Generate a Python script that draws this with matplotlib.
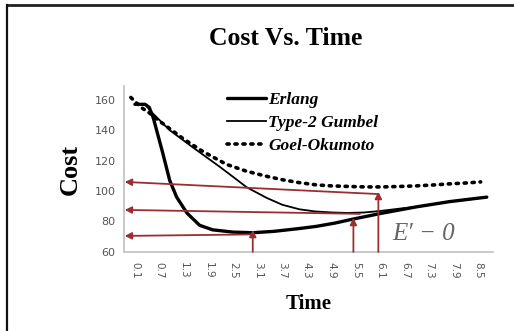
import matplotlib.pyplot as plt
from matplotlib.lines import Line2D

# values
t_erlang = [0.1, 0.35, 0.45, 0.55, 0.63, 0.78, 0.95, 1.12, 1.37, 1.68, 2.0, 2.5, 2.98,
            3.5, 4.1, 4.54, 5.0, 5.42, 6.15, 6.98, 7.78, 8.7]
erlang = [157, 157, 155, 148, 140, 125, 107, 96, 85.6, 77.5, 74.5, 73, 72.6,
          73.5, 75.3, 76.8, 79, 81.5, 85.5, 89.6, 93, 96]

t_gumbel = [0.1, 0.35, 0.5, 0.95, 1.5, 2.17, 2.49, 2.83, 3.32, 3.7, 4.12, 4.5, 4.93,
            5.3, 5.7, 6.1, 6.56, 6.98, 7.78, 8.7]
gumbel = [157, 157, 152, 140, 129, 116, 109.5, 102.5, 95.5, 91, 88, 86.6, 85.9,
          85.6, 85.9, 86.9, 88.4, 89.6, 93, 96]

t_goel = [0.0, 0.25, 0.47, 0.7, 1.0, 1.3, 1.76, 2.34, 2.83, 3.3, 3.71, 4.1, 4.54, 4.9,
          5.34, 5.75, 6.15, 6.56, 6.98, 7.4, 7.78, 8.2, 8.55]
goel = [161.5, 155, 151, 146, 140, 134, 126, 117.5, 113, 109.8, 107.4, 105.6, 104, 103.4,
        103, 102.7, 102.7, 103, 103.4, 104, 104.7, 105.3, 106]

tick_pos = [0.1, 0.7, 1.3, 1.9, 2.5, 3.1, 3.7, 4.3, 4.9, 5.5, 6.1, 6.7, 7.3, 7.9, 8.5]
tick_labels = ['0.1', '0.7', '1.3', '1.9', '2.5', '3.1', '3.7', '4.3', '4.9', '5.5', '6.1', '6.7', '7.3', '7.9', '8.5']

# optimum markers: vertical arrow (time, value), horizontal arrow start and end value
opt_t = [2.98, 5.44, 6.05]
opt_cost = [74.5, 82.4, 99.5]
arrow_from = [(2.98, 71.5), (5.6, 85), (6.05, 98)]
arrow_to = [70.5, 87.6, 106]

RED = '#9a2f2f'
serif = 'Liberation Serif'

fig = plt.figure(figsize=(5.14, 3.31), dpi=100)
ax = fig.add_axes([0.241, 0.239, 0.718, 0.501])

ax.plot(t_erlang, erlang, color='black', lw=2.4, label='Erlang', solid_capstyle='round')
ax.plot(t_gumbel, gumbel, color='black', lw=1.3, label='Type-2 Gumbel')
ax.plot(t_goel, goel, color='black', lw=2.6, linestyle=(0, (0.6, 1.6)),
        dash_capstyle='round', label='Goel-Okumoto')

xl, xr = -0.17, 8.85
for i in range(len(opt_t)):
    ax.annotate('', xy=(opt_t[i], opt_cost[i]), xytext=(opt_t[i], 60),
                arrowprops=dict(arrowstyle='-|>', color=RED, lw=1.3,
                                mutation_scale=10, shrinkA=0, shrinkB=0))
    ax.annotate('', xy=(xl + 0.02, arrow_to[i]), xytext=arrow_from[i],
                arrowprops=dict(arrowstyle='-|>', color=RED, lw=1.3,
                                mutation_scale=10, shrinkA=0, shrinkB=0))

ax.text(6.38, 72, "E\u2032 \u2212 0", fontsize=18, color='#666666',
        family=serif, style='italic', va='center')

ax.set_xlim(xl, xr)
ax.set_ylim(60, 169)
ax.set_yticks([60, 80, 100, 120, 140, 160])
ax.set_xticks(tick_pos)
ax.set_xticklabels(tick_labels, rotation=-90)
ax.tick_params(axis='x', length=0, labelsize=7.5, colors='#555555', pad=7)
ax.tick_params(axis='y', length=0, labelsize=8, colors='#555555', pad=6)
for s in ['top', 'right']:
    ax.spines[s].set_visible(False)
for s in ['left', 'bottom']:
    ax.spines[s].set_color('#c0c0c0')
    ax.spines[s].set_linewidth(1.2)

ax.set_ylabel('Cost', family=serif, fontweight='bold', fontsize=19, labelpad=9)
ax.set_xlabel('Time', family=serif, fontweight='bold', fontsize=15, labelpad=11)
fig.text(0.555, 0.885, 'Cost Vs. Time', family=serif, fontweight='bold',
         fontsize=18.5, ha='center', va='center')

leg = ax.legend(loc='upper left', bbox_to_anchor=(0.255, 1.02), frameon=False,
                prop=dict(family=serif, weight='bold', style='italic', size=12.5),
                handlelength=2.25, handletextpad=0.15, labelspacing=0.42,
                borderpad=0)

# picture frame
fig.add_artist(Line2D([0.014, 1.0], [0.984, 0.984], color='#222222', lw=2))
fig.add_artist(Line2D([0.014, 0.014], [0.0, 0.984], color='#111111', lw=1.6))

fig.savefig('out.png', dpi=100)
